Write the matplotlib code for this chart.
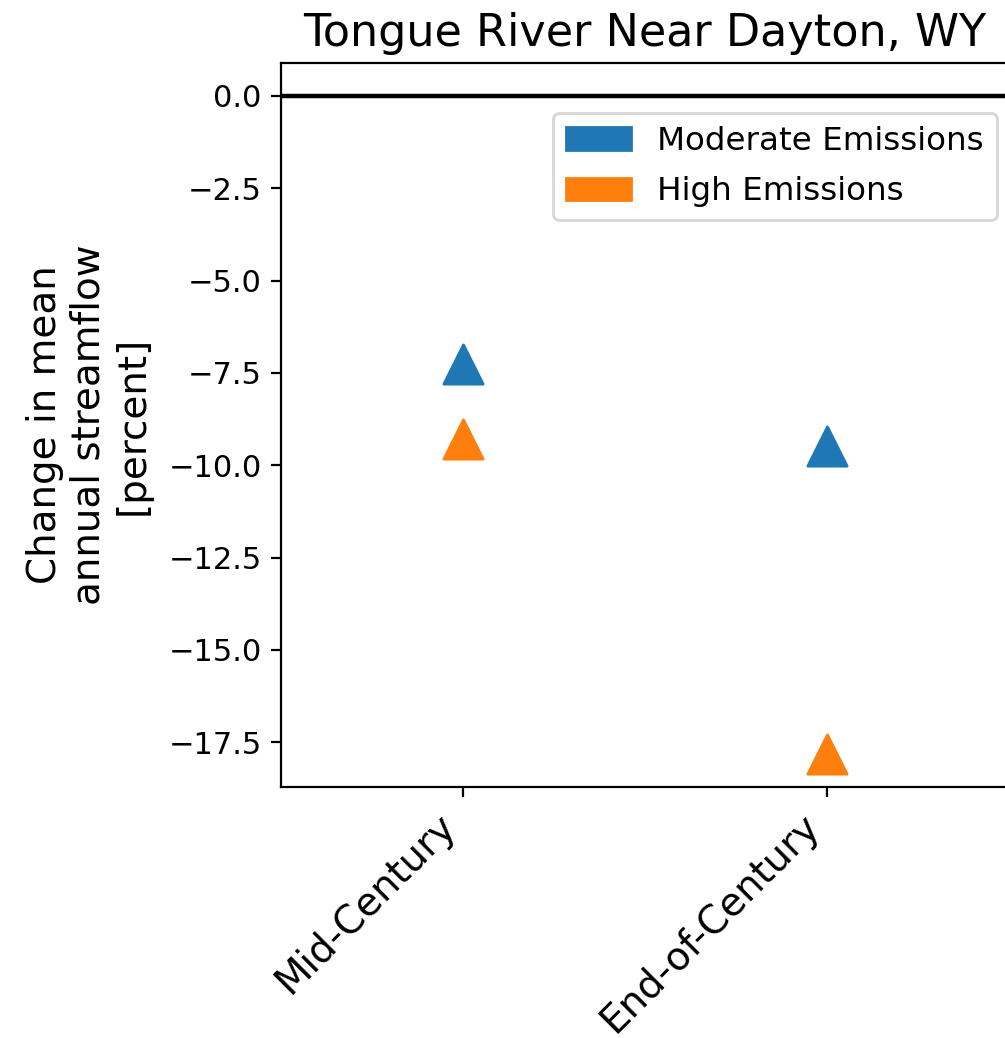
import matplotlib
matplotlib.use("Agg")
import matplotlib.pyplot as plt
import matplotlib.patches as mpatches

# =========================
# Data
# =========================
periods = ["Mid-Century", "End-of-Century"]
moderate_change = [-7.27, -9.47]
high_change = [-9.29, -17.82]

scenario_labels = ["Moderate Emissions", "High Emissions"]
scenario_colors = ["#1f77b4", "#ff7f0e"]

site_name = "Tongue River Near Dayton, WY"


def main() -> None:
    fig = plt.figure(figsize=(5.025, 5.19), dpi=200)
    ax = fig.add_axes([281 / 1005, (1038 - 787) / 1038, 728 / 1005, 724 / 1038])

    xpos = list(range(len(periods)))
    ax.axhline(0.0, color="black", linewidth=1.6)
    ax.scatter(xpos, moderate_change, marker="^", s=200, color=scenario_colors[0], zorder=3)
    ax.scatter(xpos, high_change, marker="^", s=200, color=scenario_colors[1], zorder=3)

    ax.set_xlim(-0.5, 1.5)
    ax.set_xticks(xpos)
    ax.set_xticklabels(periods, rotation=45, ha="right", fontsize=14)
    ax.tick_params(axis="y", labelsize=11)
    ax.set_ylabel("Change in mean\nannual streamflow\n[percent]", fontsize=14, labelpad=6)
    ax.set_title(site_name, fontsize=16)

    handles = [mpatches.Patch(color=c, label=l) for c, l in zip(scenario_colors, scenario_labels)]
    ax.legend(handles=handles, loc="upper right", bbox_to_anchor=(0.9835, 0.931),
              borderaxespad=0.0, fontsize=11.7, labelspacing=0.6)

    fig.savefig("out.png", dpi=200)


if __name__ == "__main__":
    main()
